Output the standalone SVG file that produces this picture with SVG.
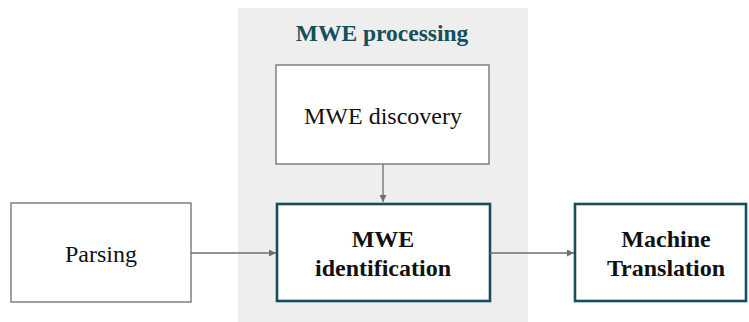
<svg xmlns="http://www.w3.org/2000/svg" width="749" height="322" viewBox="0 0 749 322">
<style>
.t{font-family:"Liberation Serif","DejaVu Serif",serif;font-size:24px;fill:#111;text-anchor:middle}
.b{font-weight:bold}
.plain{fill:#fff;stroke:#6e6e6e;stroke-width:1.3}
.hl{fill:#fff;stroke:#134f5c;stroke-width:2.6}
.c{stroke:#6e6e6e;stroke-width:1.3;fill:none}
</style>
<defs>
<marker id="ah" viewBox="0 0 10 10" refX="10" refY="5" markerWidth="7" markerHeight="7" markerUnits="userSpaceOnUse" orient="auto"><path d="M0,0L10,5L0,10z" fill="#6e6e6e"/></marker>
</defs>
<rect id="group-bg" x="238" y="8" width="290" height="314" fill="#eeeeee"/>
<text x="382" y="41" class="t b" style="fill:#134f5c;font-size:23.5px">MWE processing</text>
<g id="discovery"><rect class="plain" x="276" y="65" width="213" height="99"/><text class="t" x="383" y="124">MWE discovery</text></g>
<g id="parsing"><rect class="plain" x="11" y="203" width="180" height="99"/><text class="t" x="101" y="262">Parsing</text></g>
<g id="identification"><rect class="hl" x="277" y="204" width="213" height="97"/><text class="t b" x="383" y="247">MWE</text><text class="t b" x="383" y="276">identification</text></g>
<g id="mt"><rect class="hl" x="575" y="204" width="171" height="97"/><text class="t b" x="666" y="247">Machine</text><text class="t b" x="666" y="276">Translation</text></g>
<g id="connectors">
<path class="c" d="M191,253H276" marker-end="url(#ah)"/>
<path class="c" d="M383,164V202" marker-end="url(#ah)"/>
<path class="c" d="M490,253H574" marker-end="url(#ah)"/>
</g>
</svg>
